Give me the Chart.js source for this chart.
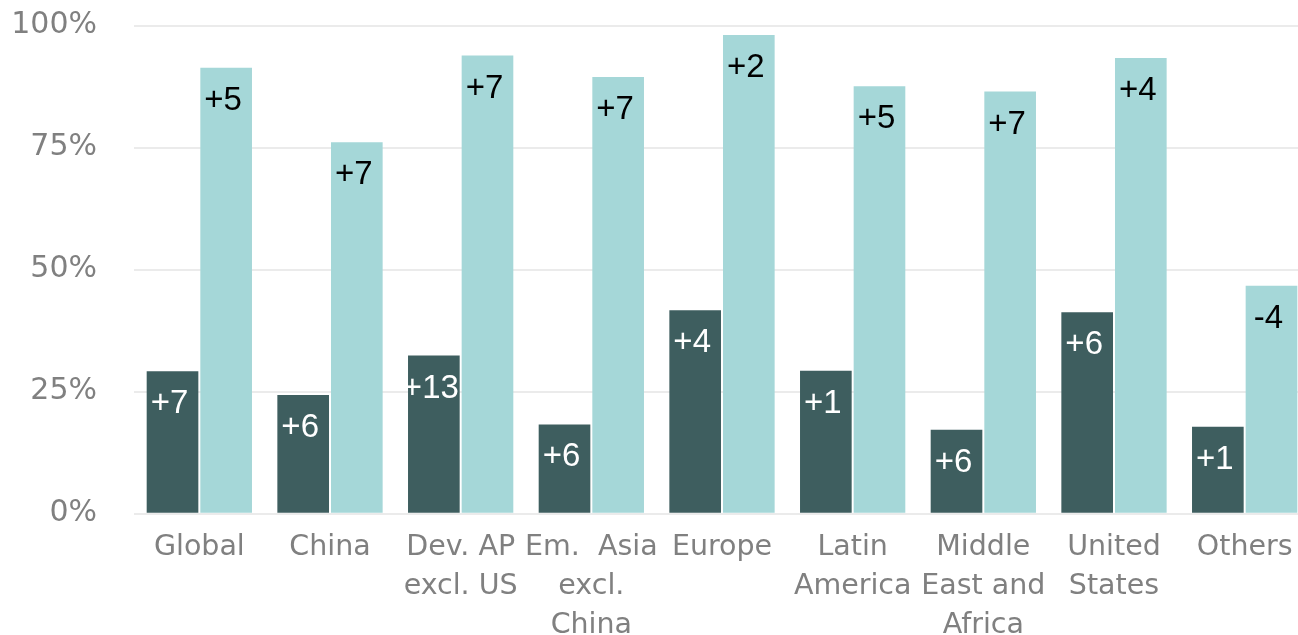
<!DOCTYPE html>
<html>
<head>
<meta charset="utf-8">
<script src="https://cdn.jsdelivr.net/npm/chart.js@4.4.1/dist/chart.umd.min.js"></script>
<style>
  html, body { margin: 0; padding: 0; background: #ffffff; overflow: hidden; }
  #wrap { width: 1298px; height: 635px; position: relative; overflow: hidden; }
  #c { display: block; }
</style>
</head>
<body>
<div id="wrap"><canvas id="c" width="1310" height="635"></canvas></div>
<script>
const categories = [
  ['Global'], ['China'], ['Dev. AP', 'excl. US'], ['Em.  Asia', 'excl.', 'China'],
  ['Europe'], ['Latin', 'America'], ['Middle', 'East and', 'Africa'], ['United', 'States'], ['Others']
];
const seriesA = [29.2, 24.3, 32.4, 18.3, 41.7, 29.3, 17.2, 41.3, 17.8];
const seriesB = [91.4, 76.1, 93.9, 89.5, 98.1, 87.6, 86.5, 93.4, 46.7];
const labelsA = ['+7', '+6', '+13', '+6', '+4', '+1', '+6', '+6', '+1'];
const labelsB = ['+5', '+7', '+7', '+7', '+2', '+5', '+7', '+4', '-4'];
const yTicks = [0, 25, 50, 75, 100];

const barLabels = {
  id: 'barLabels',
  afterDatasetsDraw(chart) {
    const ctx = chart.ctx;
    const sets = [labelsA, labelsB];
    const colors = ['#ffffff', '#000000'];
    ctx.save();
    ctx.font = '33px "Liberation Sans", Arial, sans-serif';
    ctx.textAlign = 'center';
    ctx.textBaseline = 'middle';
    chart.data.datasets.forEach((ds, di) => {
      const meta = chart.getDatasetMeta(di);
      meta.data.forEach((el, i) => {
        ctx.fillStyle = colors[di];
        ctx.fillText(sets[di][i], el.x - 3, el.y + 33);
      });
    });
    ctx.restore();
  }
};

new Chart(document.getElementById('c'), {
  type: 'bar',
  data: {
    labels: categories,
    datasets: [
      { data: seriesA, backgroundColor: '#3e5e5f', barPercentage: 0.963, categoryPercentage: 0.821 },
      { data: seriesB, backgroundColor: '#a5d7d8', barPercentage: 0.963, categoryPercentage: 0.821 }
    ]
  },
  options: {
    responsive: false,
    animation: false,
    layout: { padding: { top: 25.7, right: 0, left: 0, bottom: 0 } },
    plugins: { legend: { display: false }, tooltip: { enabled: false } },
    scales: {
      x: {
        grid: { display: false, drawTicks: false },
        border: { display: false },
        ticks: {
          color: '#808080',
          font: { family: '"DejaVu Sans", sans-serif', size: 28.5, lineHeight: 1.36 },
          padding: 15,
          maxRotation: 0,
          autoSkip: false
        },
        afterFit(scale) {
          scale.height = 121.3;
          scale.paddingLeft = 0; scale.paddingRight = 0;
        }
      },
      y: {
        min: 0, max: 100,
        afterBuildTicks(scale) { scale.ticks = yTicks.map(v => ({ value: v })); },
        grid: { color: '#ebebeb', lineWidth: 2, drawTicks: false },
        border: { display: false },
        ticks: {
          color: '#808080',
          font: { family: '"DejaVu Sans", sans-serif', size: 30 },
          padding: 37,
          callback: v => v + '%'
        },
        afterFit(scale) {
          scale.width = 134;
          scale.paddingTop = 0; scale.paddingBottom = 0;
        }
      }
    }
  },
  plugins: [barLabels]
});
</script>
</body>
</html>
